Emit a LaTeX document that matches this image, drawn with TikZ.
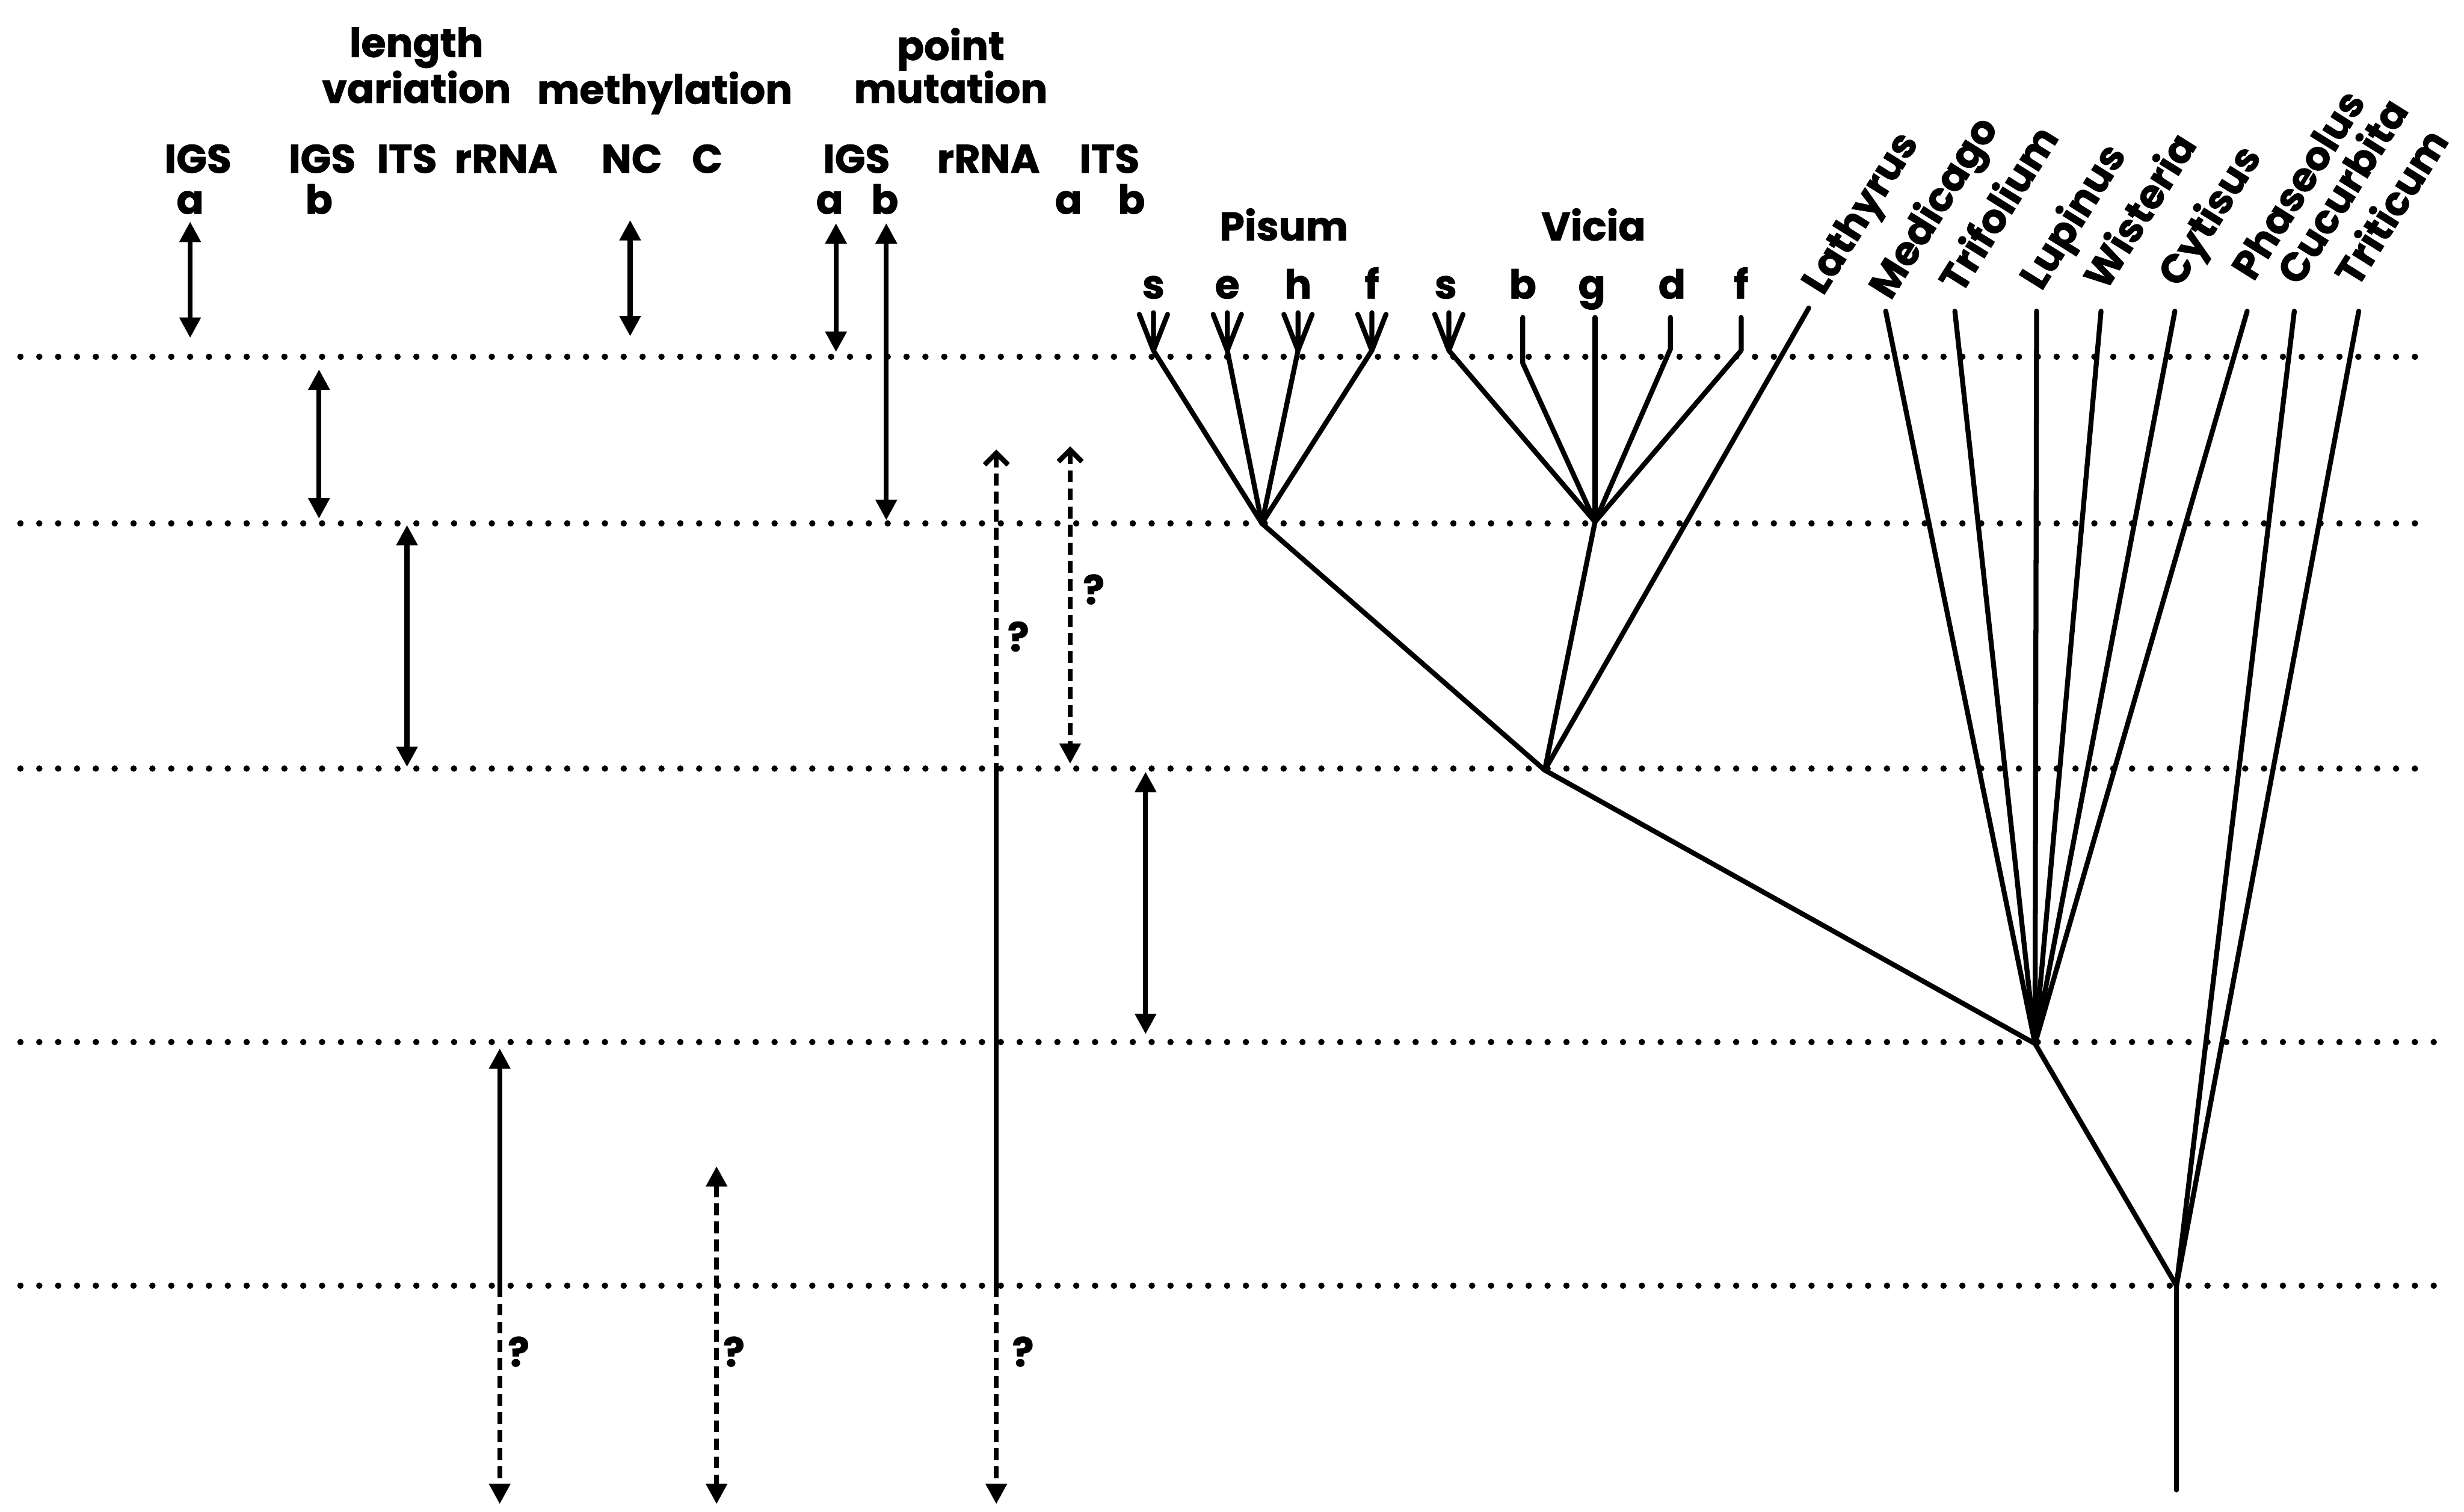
\documentclass[tikz,border=0pt]{standalone}
\usepackage{fontspec}
\setmainfont{Poppins}[BoldFeatures={FakeBold=1.2}]
\usetikzlibrary{arrows.meta}

\begin{document}
\begin{tikzpicture}[x=0.02cm,y=-0.02cm,
  font=\fontsize{14.5}{15.5}\selectfont\bfseries,
  >={Triangle[width=0.26cm,length=0.26cm]},
  Chev/.tip={Straight Barb[width=0.3cm,length=0.15cm]},
  lbl/.style={inner sep=0pt,anchor=base},
  head/.style={inner sep=0pt,anchor=south,align=center},
  taxon/.style={inner sep=0pt,anchor=base west,rotate=58},
  level/.style={line width=2.3pt,line cap=round,dash pattern=on 0pt off 0.24cm},
  branch/.style={line width=1.8pt,line cap=round,line join=round},
  span/.style={line width=1.8pt},
  unsure/.style={line width=1.8pt,dash pattern=on 0.15cm off 0.08cm}]
  \useasboundingbox (0,0) rectangle (1568,962);

  % time levels
  \foreach \i/\y/\xe in {1/227/1543,2/333/1543,3/489/1544,4/663/1559,5/818/1559}{
    \coordinate (h\i w) at (13,\y);
    \coordinate (h\i e) at (\xe,\y);
    \draw[level] (h\i w) -- (h\i e);
  }

  % column headings
  \node[head] (lenvar) at (265,66) {length\\variation};
  \node[lbl] (methyl) at (423,66) {methylation};
  \node[head] (pointmut) at (605,66) {point\\mutation};
  \foreach \n/\x/\t in {igsA/126/IGS,igsB/205/IGS,itsL/259/ITS,rrnaL/322/rRNA,
    nc/402/NC,cc/450/C,igsP/545/IGS,rrnaP/629/rRNA,itsP/706/ITS}
    \node[lbl] (\n) at (\x,110) {\t};
  \foreach \n/\x/\t in {subA/121/a,subB/203/b,subPa/528/a,subPb/563/b,subIa/680/a,subIb/720/b}
    \node[lbl] (\n) at (\x,136) {\t};

  % timing arrows
  \foreach \n/\x/\ya/\yb in {aIGSa/121/141/215,aIGSb/203/235/330,aITS/259/334/488,
    aNC/401/140/214,aPa/532/142/224,aPb/564/142/331,aITSb/729/491/658}{
    \coordinate (\n t) at (\x,\ya);
    \coordinate (\n b) at (\x,\yb);
    \draw[span,<->] (\n t) -- (\n b);
  }
  \coordinate (rl1) at (318,667);
  \coordinate (rl2) at (318,818);
  \coordinate (rl3) at (318,957);
  \draw[span,<-] (rl1) -- (rl2);
  \draw[unsure,->] (rl2) -- (rl3);
  \node (rlq) at (330,860) {?};

  \coordinate (ct) at (456,742);
  \coordinate (cb) at (456,957);
  \draw[unsure,<->] (ct) -- (cb);
  \node (cq) at (467,860) {?};

  \coordinate (pr1) at (634,286);
  \coordinate (pr2) at (634,489);
  \coordinate (pr3) at (634,818);
  \coordinate (pr4) at (634,957);
  \draw[unsure,Chev-] (pr1) -- (pr2);
  \draw[span] (pr2) -- (pr3);
  \draw[unsure,->] (pr3) -- (pr4);
  \node (prq1) at (648,405) {?};
  \node (prq2) at (651,860) {?};

  \coordinate (ia1) at (681,284);
  \coordinate (ia2) at (681,486);
  \draw[unsure,Chev->] (ia1) -- (ia2);
  \node (iaq) at (696,375) {?};

  % tree
  \coordinate (P) at (803,333);
  \coordinate (V) at (1015,332);
  \coordinate (L) at (983,490);
  \coordinate (M) at (1295,664);
  \coordinate (R) at (1385,818);
  \coordinate (root) at (1385,948);
  \node[lbl] (pisum) at (817,153) {Pisum};
  \node[lbl] (vicia) at (1014,153) {Vicia};

  \foreach \n/\x/\up in {pis/734/P,pie/781/P,pih/826/P,pif/873/P,vis/922/V}{
    \coordinate (\n base) at (\x,223);
    \coordinate (\n L) at (\x-9,200);
    \coordinate (\n M) at (\x,199);
    \coordinate (\n R) at (\x+9,200);
    \draw[branch] (\n L) -- (\n base) -- (\n R) (\n M) -- (\n base) -- (\up);
  }
  \foreach \n/\x/\yb in {vib/969/231,vig/1015/260,vid/1063/222,vif/1108/223}{
    \coordinate (\n top) at (\x,202);
    \coordinate (\n base) at (\x,\yb);
    \draw[branch] (\n top) -- (\n base) -- (V);
  }
  \foreach \n/\x/\t in {lps/734/s,lpe/781/e,lph/826/h,lpf/873/f,
    lvs/920/s,lvb/969/b,lvg/1013/g,lvd/1064/d,lvf/1108/f}
    \node[lbl] (\n) at (\x,190) {\t};

  \coordinate (lathtop) at (1151,196);
  \node[taxon] (Lathyrus) at (1160,189) {Lathyrus};
  \draw[branch] (lathtop) -- (L);
  \foreach \n/\x/\lx/\ly/\up in {Medicago/1200/1203/192/M,Trifolium/1244/1248/188/M,
    Lupinus/1296/1299/186/M,Wisteria/1337/1340/186/M,Cytisus/1384/1387/184/M,
    Phaseolus/1430/1434/180/M,Cucurbita/1460/1463/183/R,Triticum/1501/1500/184/R}{
    \coordinate (\n top) at (\x,198);
    \node[taxon] (\n) at (\lx,\ly) {\n};
    \draw[branch] (\n top) -- (\up);
  }
  \draw[branch] (P) -- (L) (V) -- (L) (L) -- (M) -- (R) -- (root);
\end{tikzpicture}
\end{document}
